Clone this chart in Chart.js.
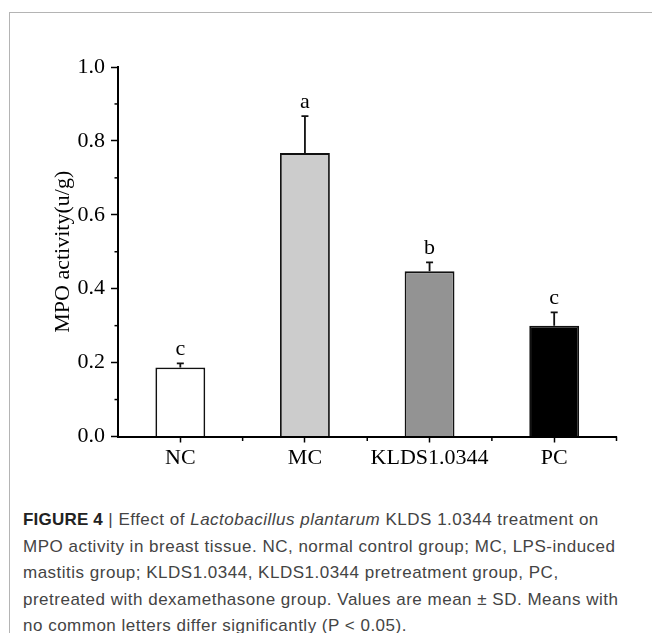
<!DOCTYPE html>
<html>
<head>
<meta charset="utf-8">
<script src="https://cdn.jsdelivr.net/npm/chart.js@4.4.1/dist/chart.umd.min.js"></script>
<style>
  html, body { margin: 0; padding: 0; background: #fff; }
  body { width: 652px; height: 633px; position: relative; overflow: hidden; }
  #frame {
    position: absolute; left: 9px; top: 12px; right: 0; bottom: 0;
    border-top: 1px solid #b4b4b4; border-left: 1px solid #b4b4b4;
  }
  #chartCanvas { position: absolute; left: 0; top: 0; }
  #caption {
    position: absolute; left: 23px; top: 507px;
    font-family: "Liberation Sans", Arial, sans-serif;
    font-size: 17px; letter-spacing: 0.5px; line-height: 26.5px; color: #444;
    white-space: nowrap;
  }
  #caption b { color: #222; letter-spacing: 0.2px; }
</style>
</head>
<body>
<div id="frame"></div>
<canvas id="chartCanvas" width="652" height="500"></canvas>
<div id="caption">
  <div><b>FIGURE 4</b> | Effect of <i>Lactobacillus plantarum</i> KLDS 1.0344 treatment on</div>
  <div>MPO activity in breast tissue. NC, normal control group; MC, LPS-induced</div>
  <div>mastitis group; KLDS1.0344, KLDS1.0344 pretreatment group, PC,</div>
  <div>pretreated with dexamethasone group. Values are mean ± SD. Means with</div>
  <div>no common letters differ significantly (P &lt; 0.05).</div>
</div>
<script>
// Data
const groups = ['NC', 'MC', 'KLDS1.0344', 'PC'];
const mpoMeans = [0.187, 0.767, 0.447, 0.300];
const mpoSD = [0.011, 0.100, 0.024, 0.036];
const sigLetters = ['c', 'a', 'b', 'c'];
const barFills = ['#ffffff', '#cccccc', '#939393', '#000000'];

const serif = '"Liberation Serif", "Times New Roman", serif';

// Error bars, letters and minor ticks drawn from the chart's scales
const extrasPlugin = {
    id: 'extras',
    afterDatasetsDraw(chart) {
        const ctx = chart.ctx;
        const x = chart.scales.x;
        const y = chart.scales.y;
        const meta = chart.getDatasetMeta(0);
        ctx.save();
        ctx.strokeStyle = '#111';
        ctx.lineWidth = 1.8;
        meta.data.forEach((bar, i) => {
            const top = y.getPixelForValue(mpoMeans[i] + mpoSD[i]);
            const base = y.getPixelForValue(mpoMeans[i]);
            ctx.beginPath();
            ctx.moveTo(bar.x, base);
            ctx.lineTo(bar.x, top);
            ctx.moveTo(bar.x - 3.5, top);
            ctx.lineTo(bar.x + 3.5, top);
            ctx.stroke();

            ctx.fillStyle = '#000';
            ctx.font = '22px ' + serif;
            ctx.textAlign = 'center';
            ctx.textBaseline = 'alphabetic';
            ctx.fillText(sigLetters[i], bar.x, top - 8);
        });

        // minor ticks on y axis (0.1, 0.3, ...)
        ctx.strokeStyle = '#000';
        ctx.lineWidth = 1.5;
        for (let v = 0.1; v < 1; v += 0.2) {
            const py = y.getPixelForValue(v);
            ctx.beginPath();
            ctx.moveTo(y.right, py);
            ctx.lineTo(y.right - 3.5, py);
            ctx.stroke();
        }
        // minor ticks on x axis at category boundaries
        const step = x.getPixelForValue(1) - x.getPixelForValue(0);
        for (let i = 0; i < groups.length; i++) {
            const px = x.getPixelForValue(i) + step / 2;
            ctx.beginPath();
            ctx.moveTo(px, x.top);
            ctx.lineTo(px, x.top + 4.5);
            ctx.stroke();
        }
        ctx.restore();
    }
};

const ctx = document.getElementById('chartCanvas').getContext('2d');
const mpoChart = new Chart(ctx, {
    type: 'bar',
    data: {
        labels: groups,
        datasets: [{
            data: mpoMeans,
            backgroundColor: barFills,
            borderColor: '#111',
            borderWidth: 1.8,
            barPercentage: 0.4,
            categoryPercentage: 1.0
        }]
    },
    options: {
        responsive: false,
        animation: false,
        layout: {
            padding: { left: 0, top: 67, right: 35.5, bottom: 0 }
        },
        plugins: {
            legend: { display: false },
            tooltip: { enabled: false }
        },
        scales: {
            x: {
                grid: { offset: false, drawOnChartArea: false, tickLength: 6, color: '#000', tickWidth: 1.5 },
                border: { color: '#000', width: 2 },
                ticks: { color: '#000', font: { family: serif, size: 22 }, padding: 3 },
                afterFit: (scale) => { scale.height = 63.5; }
            },
            y: {
                min: 0,
                max: 1.0,
                ticks: {
                    stepSize: 0.2,
                    color: '#000',
                    font: { family: serif, size: 22 },
                    padding: 6,
                    callback: (v) => v.toFixed(1)
                },
                grid: { drawOnChartArea: false, tickLength: 7, color: '#000', tickWidth: 1.5 },
                border: { color: '#000', width: 2 },
                title: {
                    display: true,
                    text: 'MPO activity(u/g)',
                    color: '#000',
                    font: { family: serif, size: 22 },
                    padding: { top: 50, bottom: 0 }
                },
                afterFit: (scale) => { scale.width = 118; }
            }
        }
    },
    plugins: [extrasPlugin]
});
</script>
</body>
</html>
